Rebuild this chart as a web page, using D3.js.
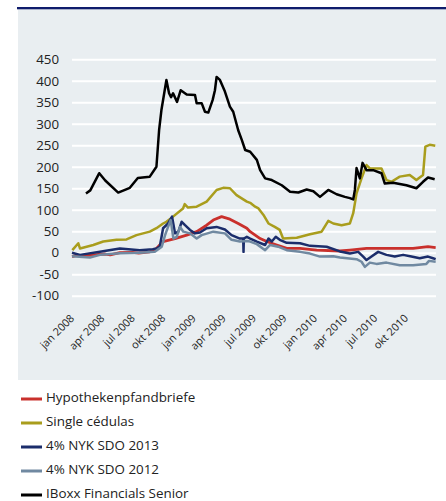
<!DOCTYPE html>
<html>
<head>
<meta charset="utf-8">
<script src="https://cdnjs.cloudflare.com/ajax/libs/d3/7.8.5/d3.min.js"></script>
<style>
  body { margin: 0; background: #fff; font-family: "Open Sans", sans-serif; }
  svg text { fill: #222; }
</style>
</head>
<body>
<script>
// y ticks
const yTicks = [-100, -50, 0, 50, 100, 150, 200, 250, 300, 350, 400, 450];

// quarterly x labels
const monthNames = ["jan", "apr", "jul", "okt"];
const xTickDates = [
  "2008-01-01", "2008-04-01", "2008-07-01", "2008-10-01",
  "2009-01-01", "2009-04-01", "2009-07-01", "2009-10-01",
  "2010-01-01", "2010-04-01", "2010-07-01", "2010-10-01"
];

// series (date, spread in bp)
const hypothekenpfandbriefe = [
  ["2008-01-01", -9], ["2008-01-15", -6], ["2008-02-01", -8], ["2008-03-04", -5],
  ["2008-04-10", -3], ["2008-04-25", -5], ["2008-05-24", 0], ["2008-07-01", 1],
  ["2008-07-20", -1], ["2008-08-22", 2], ["2008-09-11", 10], ["2008-10-01", 26],
  ["2008-10-22", 30], ["2008-11-06", 33], ["2008-12-11", 41], ["2009-01-10", 49],
  ["2009-02-09", 64], ["2009-03-01", 76], ["2009-03-26", 84], ["2009-04-20", 78],
  ["2009-05-15", 68], ["2009-06-10", 57], ["2009-06-20", 49], ["2009-07-05", 41],
  ["2009-07-20", 33], ["2009-08-09", 26], ["2009-09-08", 18], ["2009-10-08", 10],
  ["2009-11-17", 10], ["2010-01-06", 6], ["2010-03-17", 4], ["2010-04-16", 6],
  ["2010-06-05", 10], ["2010-08-14", 10], ["2010-10-23", 10], ["2010-12-07", 14],
  ["2010-12-30", 12]
];

const singleCedulas = [
  ["2008-01-02", 6], ["2008-01-20", 22], ["2008-01-25", 10], ["2008-03-05", 18],
  ["2008-04-04", 26], ["2008-05-14", 30], ["2008-06-13", 31], ["2008-07-13", 41],
  ["2008-08-22", 49], ["2008-09-11", 57], ["2008-10-01", 68], ["2008-10-11", 72],
  ["2008-10-31", 84], ["2008-11-30", 103], ["2008-12-05", 113], ["2008-12-15", 105],
  ["2009-01-10", 107], ["2009-02-09", 119], ["2009-03-11", 146], ["2009-03-31", 151],
  ["2009-04-20", 150], ["2009-05-10", 134], ["2009-06-10", 119], ["2009-06-20", 116],
  ["2009-07-05", 107], ["2009-07-15", 103], ["2009-07-30", 88], ["2009-08-14", 68],
  ["2009-09-02", 60], ["2009-09-17", 53], ["2009-09-27", 33], ["2009-11-07", 35],
  ["2009-12-17", 43], ["2010-01-21", 49], ["2010-02-10", 74], ["2010-02-25", 68],
  ["2010-03-22", 64], ["2010-04-16", 68], ["2010-04-26", 92], ["2010-05-06", 138],
  ["2010-05-21", 173], ["2010-06-05", 204], ["2010-06-15", 196], ["2010-07-20", 196],
  ["2010-08-04", 169], ["2010-08-19", 165], ["2010-09-13", 177], ["2010-10-13", 181],
  ["2010-11-02", 169], ["2010-11-22", 181], ["2010-11-29", 247], ["2010-12-12", 251],
  ["2010-12-29", 249]
];

const nykSdo2013 = [
  ["2008-01-01", 0], ["2008-01-25", -5], ["2008-03-25", 2], ["2008-05-24", 10],
  ["2008-07-23", 6], ["2008-08-31", 8], ["2008-09-12", 10], ["2008-09-21", 14],
  ["2008-10-01", 57], ["2008-10-16", 68], ["2008-10-28", 84], ["2008-11-06", 45],
  ["2008-11-16", 49], ["2008-11-26", 72], ["2008-12-06", 64], ["2008-12-21", 53],
  ["2009-01-05", 45], ["2009-01-20", 47], ["2009-02-09", 57], ["2009-03-11", 60],
  ["2009-04-05", 54], ["2009-04-25", 41], ["2009-05-20", 33], ["2009-05-30", 33],
  ["2009-05-31", 2], ["2009-06-01", 33], ["2009-06-10", 37], ["2009-06-20", 33],
  ["2009-07-10", 26], ["2009-08-04", 18], ["2009-08-14", 33], ["2009-08-24", 26],
  ["2009-09-05", 37], ["2009-09-17", 30], ["2009-10-08", 23], ["2009-11-17", 22],
  ["2009-12-17", 16], ["2010-02-05", 14], ["2010-03-17", 3], ["2010-04-16", -2],
  ["2010-05-11", 2], ["2010-05-26", -9], ["2010-06-05", -17], ["2010-06-20", -9],
  ["2010-07-10", 2], ["2010-08-04", -5], ["2010-08-29", -9], ["2010-09-23", -5],
  ["2010-10-18", -9], ["2010-11-12", -13], ["2010-12-07", -9], ["2010-12-22", -13],
  ["2010-12-30", -15]
];

const nykSdo2012 = [
  ["2008-01-01", -8], ["2008-02-24", -11], ["2008-03-25", -5], ["2008-05-24", -1],
  ["2008-07-23", 0], ["2008-09-06", 2], ["2008-09-27", 14], ["2008-10-07", 41],
  ["2008-10-16", 60], ["2008-10-24", 76], ["2008-11-01", 33], ["2008-11-11", 37],
  ["2008-11-21", 60], ["2008-12-01", 49], ["2008-12-21", 45], ["2009-01-10", 33],
  ["2009-01-25", 41], ["2009-03-01", 49], ["2009-04-05", 45], ["2009-04-25", 30],
  ["2009-05-20", 26], ["2009-06-10", 27], ["2009-06-20", 26], ["2009-07-10", 20],
  ["2009-08-04", 6], ["2009-08-19", 18], ["2009-09-12", 14], ["2009-10-08", 6],
  ["2009-11-17", 2], ["2009-12-17", -2], ["2010-01-16", -9], ["2010-02-25", -8],
  ["2010-03-17", -11], ["2010-05-06", -15], ["2010-05-21", -21], ["2010-05-31", -33],
  ["2010-06-15", -23], ["2010-07-05", -26], ["2010-08-04", -23], ["2010-09-13", -29],
  ["2010-10-23", -29], ["2010-12-02", -26], ["2010-12-10", -19], ["2010-12-30", -21]
];

const iboxxFinancialsSenior = [
  ["2008-02-12", 138], ["2008-02-25", 145], ["2008-03-23", 185], ["2008-04-10", 168],
  ["2008-05-19", 140], ["2008-06-23", 151], ["2008-07-17", 174], ["2008-08-22", 177],
  ["2008-09-11", 200], ["2008-09-19", 285], ["2008-09-26", 332], ["2008-10-11", 402],
  ["2008-10-19", 371], ["2008-10-25", 362], ["2008-10-31", 371], ["2008-11-12", 351],
  ["2008-11-23", 378], ["2008-12-11", 368], ["2009-01-05", 367], ["2009-01-10", 348],
  ["2009-01-25", 348], ["2009-02-04", 328], ["2009-02-14", 326], ["2009-02-27", 355],
  ["2009-03-06", 378], ["2009-03-11", 409], ["2009-03-21", 402], ["2009-04-05", 375],
  ["2009-04-20", 340], ["2009-04-30", 328], ["2009-05-15", 285], ["2009-05-26", 262],
  ["2009-06-05", 239], ["2009-06-20", 235], ["2009-07-10", 216], ["2009-07-20", 192],
  ["2009-08-04", 173], ["2009-08-24", 169], ["2009-09-23", 157], ["2009-10-18", 142],
  ["2009-11-12", 140], ["2009-12-07", 147], ["2009-12-27", 143], ["2010-01-16", 130],
  ["2010-02-10", 146], ["2010-03-07", 136], ["2010-04-01", 130], ["2010-04-16", 127],
  ["2010-04-26", 124], ["2010-05-01", 146], ["2010-05-06", 197], ["2010-05-16", 173],
  ["2010-05-24", 209], ["2010-06-05", 192], ["2010-06-25", 192], ["2010-07-20", 185],
  ["2010-07-30", 161], ["2010-08-24", 163], ["2010-10-03", 157], ["2010-11-02", 150],
  ["2010-11-22", 165], ["2010-12-07", 175], ["2010-12-27", 171]
];

const seriesNames = [
  "Hypothekenpfandbriefe", "Single cédulas", "4% NYK SDO 2013",
  "4% NYK SDO 2012", "IBoxx Financials Senior"
];
const seriesColors = ["#c9302c", "#a99d1d", "#1b2d6b", "#7089a1", "#000000"];
const seriesData = [hypothekenpfandbriefe, singleCedulas, nykSdo2013, nykSdo2012, iboxxFinancialsSenior];

const width = 446;
const height = 501;
const parseDate = d3.timeParse("%Y-%m-%d");

const svg = d3.select("body")
  .append("svg")
  .attr("width", width)
  .attr("height", height);

// panel + top rule
svg.append("rect")
  .attr("x", 18).attr("y", 9)
  .attr("width", width - 18).attr("height", 371)
  .attr("fill", "#e9eef1");

svg.append("rect")
  .attr("x", 17).attr("y", 7)
  .attr("width", width - 17).attr("height", 2.3)
  .attr("fill", "#0f1c6c");

const xScale = d3.scaleTime()
  .domain([parseDate("2008-01-01"), parseDate("2010-12-31")])
  .range([72, 436]);

const yScale = d3.scaleLinear()
  .domain([-100, 450])
  .range([295.7, 59.3]);

// gridlines + y labels
const yAxis = d3.axisLeft(yScale)
  .tickValues(yTicks)
  .tickSize(-(436 - 72))
  .tickPadding(13)
  .tickFormat(d => d);

svg.append("g")
  .attr("transform", "translate(72,0)")
  .call(yAxis)
  .call(g => g.select(".domain").remove())
  .call(g => g.selectAll("line").attr("stroke", "#fff").attr("stroke-width", 2))
  .call(g => g.selectAll("text")
    .attr("font-family", "Open Sans, sans-serif")
    .attr("font-size", 13.3)
    .attr("fill", "#222"));

// x labels, rotated
svg.append("g")
  .selectAll("text")
  .data(xTickDates)
  .enter()
  .append("text")
  .attr("transform", d => `translate(${xScale(parseDate(d)) + 3},319) rotate(-45)`)
  .attr("text-anchor", "end")
  .attr("font-size", 10.8)
  .text(d => {
    const dt = parseDate(d);
    return `${monthNames[Math.floor(dt.getMonth() / 3)]} ${dt.getFullYear()}`;
  });

// lines
const line = d3.line()
  .x(d => xScale(parseDate(d[0])))
  .y(d => yScale(d[1]));

seriesData.forEach((s, i) => {
  svg.append("path")
    .datum(s)
    .attr("fill", "none")
    .attr("stroke", seriesColors[i])
    .attr("stroke-width", i === 0 ? 2.8 : 2.5)
    .attr("stroke-linejoin", "round")
    .attr("d", line);
});

// legend
const legend = svg.append("g");
seriesNames.forEach((name, i) => {
  const y = 399 + i * 24;
  legend.append("line")
    .attr("x1", 21).attr("x2", 42)
    .attr("y1", y).attr("y2", y)
    .attr("stroke", seriesColors[i])
    .attr("stroke-width", 3);
  legend.append("text")
    .attr("x", 46)
    .attr("y", y + 3)
    .attr("font-size", 13.4)
    .text(name);
});
</script>
</body>
</html>
